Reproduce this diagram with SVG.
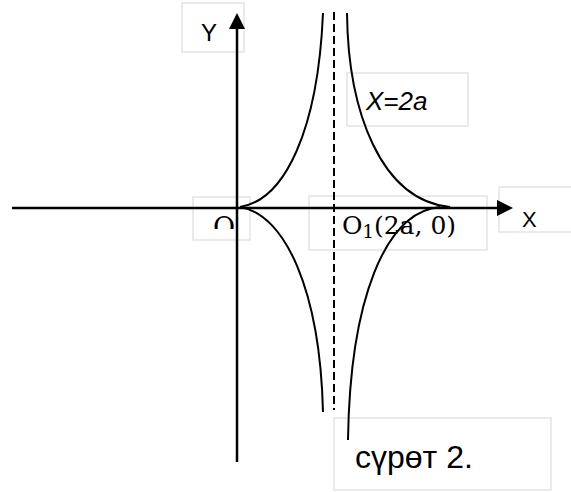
<svg xmlns="http://www.w3.org/2000/svg" width="571" height="492" viewBox="0 0 571 492">
<style>
.box{fill:#fff;stroke:#e3e3e3;stroke-width:1.5}
.ax{stroke:#000;stroke-width:2.5;fill:none}
.cv{stroke:#000;stroke-width:2;fill:none}
.sans{font-family:"Liberation Sans",Arial,sans-serif;fill:#000}
.serif{font-family:"DejaVu Serif","Liberation Serif",serif;fill:#000}
</style>
<defs>
<clipPath id="clipO"><rect x="190" y="190" width="60" height="39"/></clipPath>
</defs>
<rect width="571" height="492" fill="#fff"/>
<g id="label-boxes">
<g id="box-Y"><rect class="box" x="182" y="3" width="62" height="49"/><text class="sans" x="201" y="41" font-size="24">Y</text></g>
<g id="box-X2a"><rect class="box" x="347" y="73" width="121" height="53"/><text class="sans" x="366" y="110" font-size="26" font-style="italic">X=2a</text></g>
<g id="box-O"><rect class="box" x="193" y="197" width="57" height="43"/><text class="serif" x="213" y="237" font-size="27" clip-path="url(#clipO)">O</text></g>
<g id="box-O1"><rect class="box" x="309" y="196" width="178" height="54"/><text class="serif" x="342" y="234" font-size="25">O<tspan font-size="18" dy="4">1</tspan><tspan dy="-4">(2a, 0)</tspan></text></g>
<g id="box-X"><rect class="box" x="499" y="187" width="80" height="45"/><text class="sans" x="522" y="227" font-size="22">X</text></g>
<g id="box-caption"><rect class="box" x="334" y="418" width="217" height="72"/><text class="sans" x="355" y="468" font-size="32">сүрөт 2.</text></g>
</g>
<g id="connectors">
<line class="ax" x1="12" y1="208" x2="498" y2="208"/>
<polygon points="513,208 497,200 497,216" fill="#000"/>
<line class="ax" x1="237" y1="462" x2="237" y2="28"/>
<polygon points="237,13 229,29 245,29" fill="#000"/>
<line x1="334" y1="12" x2="334" y2="410" stroke="#000" stroke-width="2" stroke-dasharray="8,4"/>
<path class="cv" d="M240,207 C285,200 318,130 323,13"/>
<path class="cv" d="M240,207 C285,214 320,290 323,412"/>
<path class="cv" d="M347,13 C348,110 380,200 450,207"/>
<path class="cv" d="M440,207 C385,212 350,300 348,440"/>
</g>
</svg>
